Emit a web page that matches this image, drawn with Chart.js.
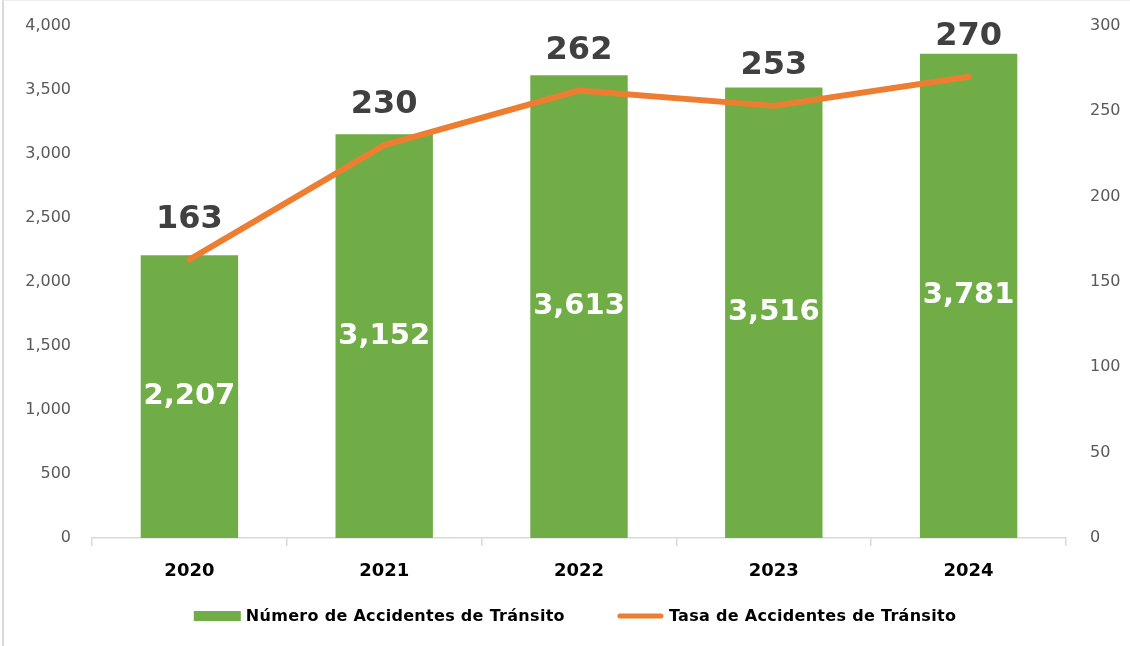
<!DOCTYPE html>
<html>
<head>
<meta charset="utf-8">
<script src="https://cdn.jsdelivr.net/npm/chart.js@4/dist/chart.umd.min.js"></script>
<style>
  html, body { margin: 0; padding: 0; background: #fff; }
  #wrap { width: 1130px; height: 646px; position: relative; }
</style>
</head>
<body>
<div id="wrap"><canvas id="c" width="1130" height="646"></canvas></div>
<script>
const categories = ['2020', '2021', '2022', '2023', '2024'];
const accidentes = [2207, 3152, 3613, 3516, 3781];
const tasa = [163, 230, 262, 253, 270];
const labelAccidentes = 'Número de Accidentes de Tránsito';
const labelTasa = 'Tasa de Accidentes de Tránsito';

const GREEN = '#70AD47';
const ORANGE = '#ED7D31';

const fmt = v => Number(v).toLocaleString('en-US');

const overlay = {
  id: 'overlay',
  beforeDraw(chart) {
    const ctx = chart.ctx;
    ctx.save();
    ctx.strokeStyle = '#d9d9d9';
    ctx.lineWidth = 2;
    ctx.beginPath();
    ctx.moveTo(3, 0); ctx.lineTo(3, 646);
    ctx.stroke();
    ctx.strokeStyle = '#eeeeee';
    ctx.lineWidth = 1;
    ctx.beginPath();
    ctx.moveTo(3, 0.5); ctx.lineTo(1130, 0.5);
    ctx.stroke();
    ctx.restore();
  },
  afterDatasetsDraw(chart) {
    const ctx = chart.ctx;
    ctx.save();
    ctx.textAlign = 'center';
    ctx.textBaseline = 'middle';
    const barMeta = chart.getDatasetMeta(0);
    ctx.font = 'bold 29px "DejaVu Sans"';
    ctx.fillStyle = '#ffffff';
    barMeta.data.forEach((el, i) => {
      const y = (el.y + el.base) / 2;
      ctx.fillText(fmt(accidentes[i]), el.x, y);
    });
    const lineMeta = chart.getDatasetMeta(1);
    ctx.font = 'bold 32px "DejaVu Sans"';
    ctx.fillStyle = '#404040';
    lineMeta.data.forEach((el, i) => {
      ctx.fillText(fmt(tasa[i]), el.x, el.y - 40);
    });
    ctx.restore();
  },
  afterDraw(chart) {
    const ctx = chart.ctx;
    ctx.save();
    ctx.font = 'bold 16px "DejaVu Sans"';
    ctx.letterSpacing = '0.3px';
    ctx.textBaseline = 'middle';
    ctx.textAlign = 'left';
    const y = 616;
    const boxW = 47, gap = 5, itemGap = 52;
    const w1 = ctx.measureText(labelAccidentes).width;
    const w2 = ctx.measureText(labelTasa).width;
    const total = boxW + gap + w1 + itemGap + boxW + gap + w2;
    let x = 575 - total / 2;
    ctx.fillStyle = GREEN;
    ctx.fillRect(x, y - 5, boxW, 10);
    ctx.fillStyle = '#000';
    ctx.fillText(labelAccidentes, x + boxW + gap, y + 1);
    x += boxW + gap + w1 + itemGap;
    ctx.strokeStyle = ORANGE;
    ctx.lineWidth = 5;
    ctx.lineCap = 'round';
    ctx.beginPath();
    ctx.moveTo(x + 3, y); ctx.lineTo(x + boxW - 3, y);
    ctx.stroke();
    ctx.fillStyle = '#000';
    ctx.fillText(labelTasa, x + boxW + gap, y + 1);
    ctx.restore();
  }
};

new Chart(document.getElementById('c'), {
  type: 'bar',
  data: {
    labels: categories,
    datasets: [
      {
        type: 'bar',
        label: labelAccidentes,
        data: accidentes,
        backgroundColor: GREEN,
        yAxisID: 'y',
        barPercentage: 0.5,
        categoryPercentage: 1.0,
        order: 2
      },
      {
        type: 'line',
        label: labelTasa,
        data: tasa,
        borderColor: ORANGE,
        backgroundColor: ORANGE,
        borderWidth: 6,
        borderCapStyle: 'round',
        borderJoinStyle: 'round',
        pointRadius: 0,
        tension: 0,
        yAxisID: 'y1',
        order: 1
      }
    ]
  },
  options: {
    responsive: false,
    animation: false,
    devicePixelRatio: 1,
    layout: { padding: { top: 17, right: 0, left: 0, bottom: 0 } },
    plugins: {
      legend: { display: false },
      tooltip: { enabled: false }
    },
    scales: {
      x: {
        offset: true,
        grid: { display: true, drawOnChartArea: false, offset: true, tickLength: 8, color: '#d9d9d9', lineWidth: 1.5 },
        border: { display: true, color: '#d9d9d9', width: 1.5 },
        ticks: { font: { family: 'DejaVu Sans', size: 18, weight: 'bold' }, color: '#000', padding: 15 },
        afterFit: s => { s.height = 108; }
      },
      y: {
        position: 'left',
        min: 0, max: 4000,
        grid: { display: false },
        border: { display: false },
        ticks: { stepSize: 500, font: { family: 'DejaVu Sans', size: 16 }, color: '#595959', padding: 13, callback: v => fmt(v) },
        afterFit: s => { s.width = 92; }
      },
      y1: {
        position: 'right',
        min: 0, max: 300,
        grid: { display: false },
        border: { display: false },
        ticks: { stepSize: 50, font: { family: 'DejaVu Sans', size: 16 }, color: '#595959', padding: 16, callback: v => fmt(v) },
        afterFit: s => { s.width = 64; }
      }
    }
  },
  plugins: [overlay]
});
</script>
</body>
</html>
